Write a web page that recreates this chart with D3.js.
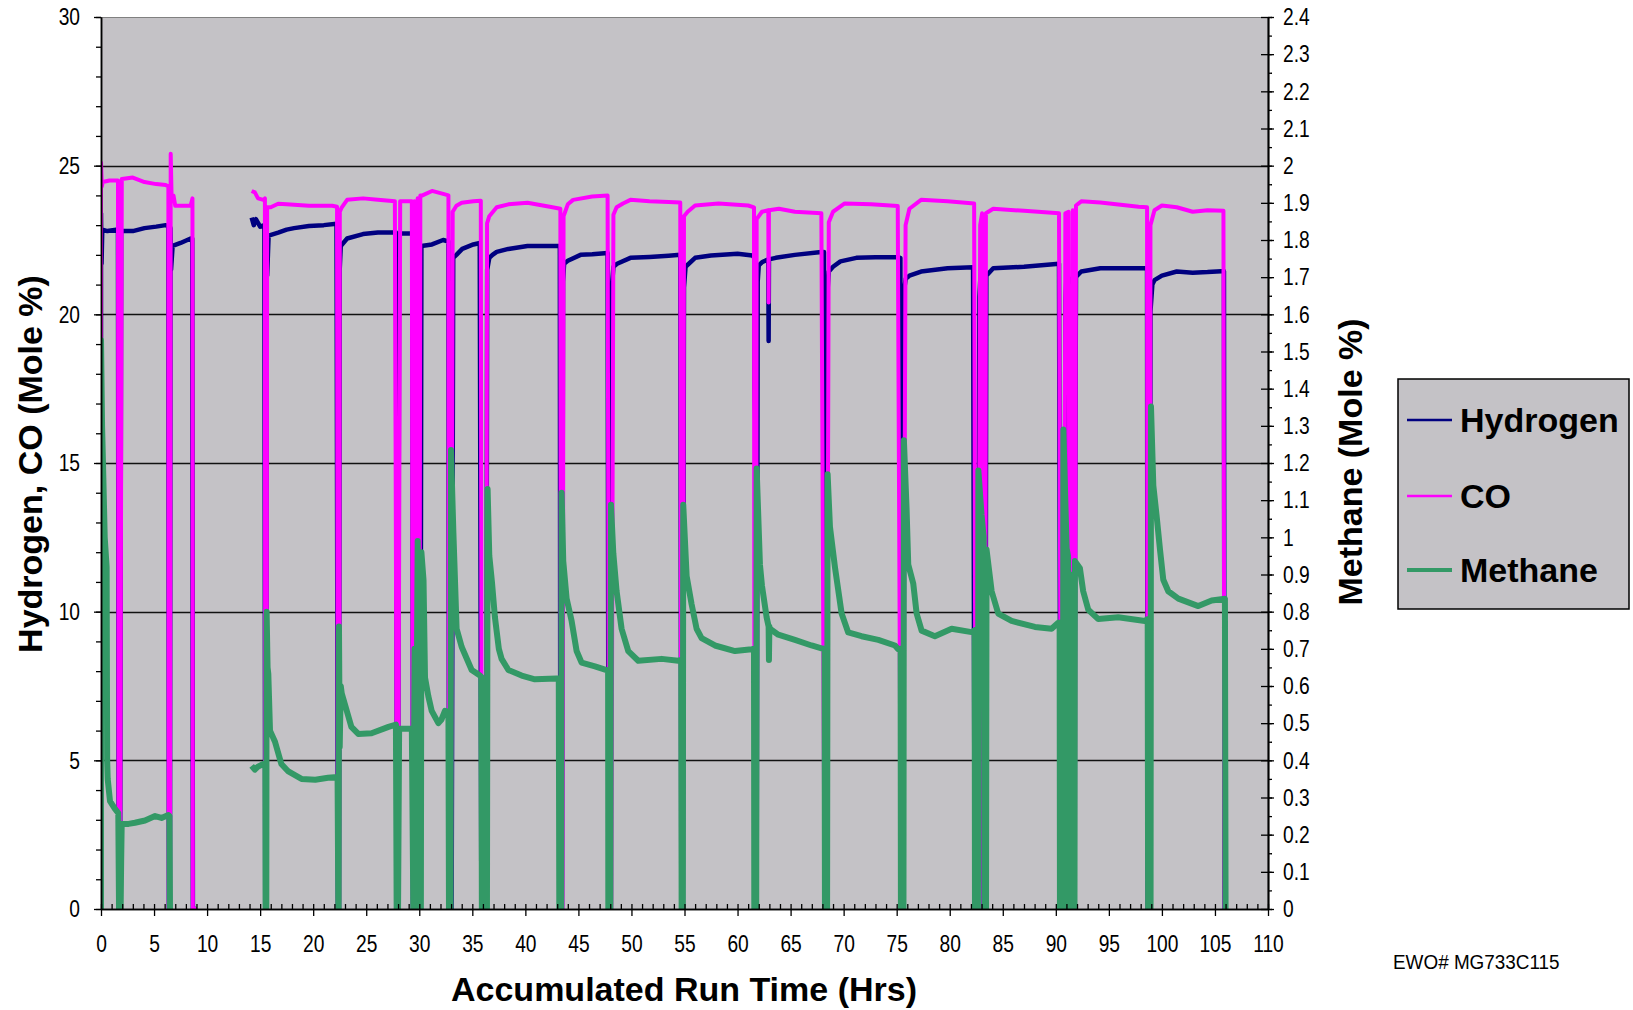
<!DOCTYPE html>
<html>
<head>
<meta charset="utf-8">
<title>Hydrogen, CO and Methane vs Run Time</title>
<style>
  body { margin: 0; background: #fff; }
  text { font-family: "Liberation Sans", Arial, sans-serif; }
</style>
</head>
<body>
<div id="container"></div>

<script src="https://d3js.org/d3.v7.min.js" type="text/javascript"></script>
<script type="text/javascript">
    // [run time (hrs), mole %]; null = no data
    const hydrogen = [
        [0, 0], [0, 23.4], [0.05, 21.7], [0.12, 22.85], [0.6, 22.8], [1.6, 22.85], [1.67, 0], [1.8, 0],
        [1.9, 22.8], [3.0, 22.8], [4.1, 22.9], [5.2, 22.95], [6.1, 23.0], [6.35, 22.95], [6.4, 0], [6.5, 0],
        [6.55, 22.9], [6.6, 21.5], [6.75, 22.3], [7.5, 22.4], [8.45, 22.55], [8.6, 22.55], [8.66, 0], [9.0, 0],
        null,
        [14.2, 23.25], [14.4, 23.0], [14.6, 23.2], [15.0, 22.95], [15.4, 23.0], [15.48, 0], [15.58, 0],
        [15.62, 22.8], [15.66, 21.3], [15.8, 22.65], [16.7, 22.75], [17.5, 22.85], [18.2, 22.9], [19.6, 22.97],
        [21.0, 23.0], [22.2, 23.05], [22.33, 0], [22.43, 0], [22.5, 21.5], [22.6, 22.3], [23.2, 22.55],
        [24.7, 22.7], [26.1, 22.75], [27.8, 22.75], [27.9, 0], [28.0, 0], [28.1, 22.72], [29.36, 22.72],
        [29.4, 0], [29.6, 22.7], [29.7, 0], [29.9, 22.3], [30.0, 0], [30.1, 0], [30.2, 22.3], [31.2, 22.35],
        [32.25, 22.5], [32.75, 22.45], [32.8, 0], [33.05, 0], [33.2, 21.9], [33.5, 22.0], [34.05, 22.2],
        [35.1, 22.35], [35.7, 22.4], [35.85, 0], [36.3, 0], [36.4, 21.5], [36.6, 21.9], [36.9, 22.0],
        [37.3, 22.1], [38.4, 22.2], [40.2, 22.3], [42.3, 22.3], [43.25, 22.3], [43.3, 0], [43.45, 0],
        [43.55, 21.1], [43.65, 21.7], [44.0, 21.8], [45.2, 22.0], [46.3, 22.02], [47.75, 22.06], [47.85, 0],
        [48.0, 0], [48.1, 20.67], [48.3, 21.6], [48.65, 21.7], [49.9, 21.9], [51.7, 21.93], [53.5, 21.97],
        [54.6, 22.0], [54.7, 0], [54.85, 0], [54.95, 20.9], [55.1, 21.6], [56.0, 21.9], [57.5, 21.98],
        [60.0, 22.04], [61.4, 21.98], [61.58, 21.9], [61.6, 17.5], [61.66, 16.5], [61.68, 0], [61.8, 0],
        [61.9, 21.1], [62.0, 21.65], [62.3, 21.75], [62.9, 21.85], [62.93, 19.1], [62.96, 21.85], [63.6, 21.9],
        [65.4, 22.0], [67.9, 22.1], [68.15, 22.1], [68.2, 0], [68.4, 0], [68.5, 20.9], [68.6, 21.44],
        [69.0, 21.6], [69.7, 21.78], [71.2, 21.9], [73.0, 21.92], [75.1, 21.92], [75.35, 21.9], [75.4, 0],
        [75.6, 0], [75.7, 20.8], [75.85, 21.2], [76.2, 21.3], [77.3, 21.44], [79.8, 21.55], [82.2, 21.58],
        [82.35, 0], [82.6, 0], [82.8, 20.6], [82.9, 21.3], [83.15, 21.3], [83.2, 0], [83.35, 0], [83.45, 21.3],
        [84.1, 21.55], [87.0, 21.6], [90.3, 21.7], [90.45, 0], [90.8, 0], [90.9, 20.5], [91.0, 21.2],
        [91.3, 21.2], [91.35, 0], [91.7, 0], [91.9, 21.26], [92.4, 21.44], [94.2, 21.55], [97.8, 21.55],
        [98.6, 21.55], [98.65, 0], [98.85, 0], [98.92, 20.1], [99.1, 21.0], [99.3, 21.15], [100.0, 21.3],
        [101.4, 21.44], [102.9, 21.4], [104.3, 21.42], [105.6, 21.45], [105.85, 21.45], [105.9, 0]
    ];

    const co = [
        [0, 0], [0, 25.1], [0.08, 24.3], [0.16, 24.45], [0.8, 24.5], [1.6, 24.5], [1.67, 0], [1.8, 0],
        [1.96, 24.55], [3.0, 24.6], [4.1, 24.45], [5.2, 24.38], [6.1, 24.35], [6.35, 24.3], [6.39, 0], [6.5, 0],
        [6.57, 25.4], [6.65, 24.0], [6.83, 24.0], [7.0, 23.65], [8.45, 23.65], [8.62, 23.9], [8.66, 0], [9.0, 0],
        null,
        [14.2, 24.15], [14.5, 24.1], [14.8, 23.9], [15.3, 23.85], [15.45, 23.9], [15.48, 0], [15.6, 0],
        [15.66, 23.6], [16.0, 23.6], [16.7, 23.72], [17.5, 23.7], [19.6, 23.65], [21.8, 23.65], [22.25, 23.62],
        [22.33, 0], [22.45, 0], [22.51, 23.45], [22.7, 23.6], [23.2, 23.85], [24.7, 23.9], [26.1, 23.85],
        [27.7, 23.8], [27.9, 0], [28.0, 0], [28.2, 23.8], [29.3, 23.8], [29.4, 0], [29.55, 23.8], [29.7, 0],
        [29.85, 23.9], [30.0, 0], [30.1, 24.0], [30.3, 24.0], [31.2, 24.15], [32.25, 24.05], [32.75, 24.0],
        [32.8, 0], [33.0, 0], [33.15, 23.45], [33.5, 23.65], [34.0, 23.75], [35.1, 23.8], [35.8, 23.82],
        [35.88, 0], [36.3, 0], [36.39, 23.06], [36.6, 23.3], [37.3, 23.6], [38.4, 23.7], [40.2, 23.75],
        [42.3, 23.62], [43.3, 23.55], [43.35, 0], [43.5, 0], [43.6, 23.3], [44.0, 23.7], [44.5, 23.85],
        [46.3, 23.96], [47.75, 24.0], [47.9, 0], [48.1, 0], [48.3, 23.35], [48.6, 23.6], [49.2, 23.73],
        [49.9, 23.85], [51.7, 23.8], [53.5, 23.78], [54.6, 23.76], [54.7, 0], [54.85, 0], [54.95, 23.3],
        [55.3, 23.45], [56.0, 23.66], [58.2, 23.73], [61.0, 23.66], [61.55, 23.6], [61.6, 0], [61.75, 0],
        [61.8, 23.2], [62.3, 23.45], [62.9, 23.5], [62.93, 20.4], [62.96, 23.5], [63.9, 23.55], [65.4, 23.45],
        [67.9, 23.4], [68.2, 0], [68.4, 0], [68.6, 23.1], [69.0, 23.45], [70.1, 23.73], [72.6, 23.7],
        [75.1, 23.64], [75.4, 0], [75.6, 0], [75.84, 23.0], [76.2, 23.55], [77.3, 23.85], [79.8, 23.8],
        [82.3, 23.73], [82.45, 0], [82.65, 0], [82.87, 23.0], [83.05, 23.4], [83.2, 0], [83.35, 0],
        [83.41, 23.4], [84.1, 23.55], [87.0, 23.48], [90.3, 23.4], [90.5, 0], [90.75, 0], [90.9, 23.4],
        [91.2, 23.45], [91.35, 0], [91.55, 0], [91.6, 23.5], [91.7, 0], [91.8, 0], [91.9, 23.66], [92.4, 23.8],
        [94.2, 23.76], [97.8, 23.62], [98.6, 23.6], [98.65, 0], [98.85, 0], [98.92, 23.0], [99.3, 23.5],
        [100.0, 23.66], [101.4, 23.6], [102.9, 23.45], [104.3, 23.5], [105.8, 23.48], [105.9, 0]
    ];

    const methane = [
        [0, 0], [0, 1.53], [0.1, 1.3], [0.22, 1.16], [0.35, 1.0], [0.53, 0.92], [0.58, 0.4], [0.63, 0.35],
        [0.85, 0.29], [1.3, 0.27], [1.63, 0.258], [1.7, 0], [1.85, 0], [1.9, 0.13], [1.95, 0.229], [2.6, 0.229],
        [3.2, 0.232], [4.15, 0.238], [5.1, 0.25], [5.7, 0.245], [6.35, 0.253], [6.45, 0.25], [6.5, 0],
        null,
        [14.2, 0.385], [14.5, 0.375], [14.8, 0.383], [15.3, 0.39], [15.5, 0.39], [15.52, 0], [15.58, 0],
        [15.61, 0.8], [15.7, 0.65], [15.77, 0.633], [15.93, 0.48], [16.4, 0.45], [17.0, 0.39], [17.66, 0.37],
        [18.9, 0.35], [20.2, 0.348], [21.4, 0.353], [22.3, 0.355], [22.37, 0], [22.4, 0], [22.43, 0.76],
        [22.5, 0.436], [22.6, 0.6], [22.69, 0.58], [23.3, 0.52], [23.6, 0.49], [24.25, 0.471], [25.5, 0.473],
        [27.1, 0.49], [27.8, 0.496], [27.87, 0], [28.0, 0], [28.1, 0.485], [29.3, 0.485], [29.44, 0],
        [29.55, 0.7], [29.65, 0], [29.85, 0.99], [29.95, 0], [30.15, 0], [30.2, 0.96], [30.4, 0.885],
        [30.54, 0.623], [30.85, 0.573], [31.17, 0.533], [31.8, 0.5], [32.1, 0.51], [32.42, 0.533],
        [32.75, 0.53], [32.8, 0], [32.95, 0], [32.99, 1.235], [33.21, 1.017], [33.52, 0.754], [34.0, 0.705],
        [34.94, 0.643], [35.72, 0.628], [35.85, 0.625], [35.88, 0.32], [35.9, 0], [36.38, 0], [36.44, 1.13],
        [36.6, 0.95], [36.85, 0.88], [37.13, 0.785], [37.5, 0.7], [37.76, 0.673], [38.4, 0.643],
        [39.65, 0.628], [40.9, 0.618], [42.95, 0.62], [43.15, 0.62], [43.2, 0], [43.38, 0], [43.42, 1.12],
        [43.57, 0.936], [43.89, 0.835], [44.36, 0.775], [44.83, 0.694], [45.3, 0.663], [46.56, 0.653],
        [47.66, 0.643], [47.8, 0.64], [47.82, 0], [48.02, 0], [48.07, 1.088], [48.29, 0.957], [48.6, 0.855],
        [49.07, 0.754], [49.7, 0.694], [50.64, 0.668], [52.85, 0.673], [54.41, 0.668], [54.7, 0.67],
        [54.73, 0], [54.84, 0], [54.88, 1.088], [55.2, 0.896], [55.67, 0.82], [56.14, 0.754], [56.61, 0.729],
        [57.87, 0.709], [59.76, 0.694], [61.33, 0.699], [61.55, 0.7], [61.58, 0], [61.76, 0], [61.8, 1.185],
        [62.11, 0.927], [62.3, 0.87], [62.74, 0.785], [62.93, 0.76], [62.96, 0.67], [63.0, 0.76],
        [63.05, 0.754], [63.84, 0.738], [65.41, 0.724], [66.98, 0.709], [68.08, 0.7], [68.2, 0.7], [68.24, 0],
        [68.44, 0], [68.49, 1.17], [68.71, 1.028], [69.18, 0.92], [69.81, 0.795], [70.43, 0.744],
        [71.69, 0.734], [73.27, 0.724], [74.84, 0.709], [75.15, 0.699], [75.37, 0.7], [75.4, 0], [75.64, 0],
        [75.68, 1.261], [75.93, 1.079], [76.09, 0.927], [76.56, 0.876], [76.88, 0.795], [77.35, 0.749],
        [78.6, 0.734], [80.18, 0.754], [82.06, 0.745], [82.35, 0.75], [82.38, 0], [82.66, 0], [82.7, 1.18],
        [83.0, 1.06], [83.2, 1.0], [83.3, 0], [83.42, 0], [83.47, 0.967], [83.95, 0.855], [84.57, 0.795],
        [85.83, 0.775], [88.03, 0.759], [89.6, 0.754], [90.23, 0.77], [90.36, 0.77], [90.39, 0], [90.67, 0],
        [90.71, 1.29], [91.02, 0.97], [91.15, 0.95], [91.18, 0], [91.38, 0], [91.43, 0.9], [91.6, 0.88],
        [91.65, 0], [91.76, 0], [91.8, 0.936], [92.27, 0.917], [92.58, 0.855], [93.06, 0.805], [94.0, 0.78],
        [95.88, 0.785], [98.4, 0.775], [98.66, 0.78], [98.7, 0], [98.93, 0], [98.97, 1.352], [99.19, 1.139],
        [99.5, 1.058], [99.82, 0.967], [100.13, 0.886], [100.6, 0.855], [101.55, 0.835], [103.43, 0.815],
        [104.69, 0.83], [105.94, 0.835], [106.0, 0]
    ];

    const xTicks = [0, 5, 10, 15, 20, 25, 30, 35, 40, 45, 50, 55, 60, 65, 70, 75, 80, 85, 90, 95, 100, 105, 110];
    const leftTicks = [0, 5, 10, 15, 20, 25, 30];
    const rightTicks = [0, 0.1, 0.2, 0.3, 0.4, 0.5, 0.6, 0.7, 0.8, 0.9, 1, 1.1, 1.2, 1.3, 1.4, 1.5, 1.6, 1.7,
        1.8, 1.9, 2, 2.1, 2.2, 2.3, 2.4];
    const seriesNames = ['Hydrogen', 'CO', 'Methane'];

    const w = 1633;
    const h = 1010;
    const plot = {left: 101, right: 1268, top: 17, bottom: 909};
    const colors = {Hydrogen: '#000080', CO: '#ff00ff', Methane: '#339966'};
    const bg = '#c4c2c6';
    const sx = 0.8; // the original tick font is narrow

    const svg = d3.select('#container')
        .append('svg')
        .attr('width', w)
        .attr('height', h)
        .style('display', 'block');

    svg.append('rect').attr('width', w).attr('height', h).attr('fill', '#fff');

    const x = d3.scaleLinear().domain([0, 110]).range([plot.left, plot.right]);
    const y = d3.scaleLinear().domain([0, 30]).range([plot.bottom, plot.top]);
    const y2 = d3.scaleLinear().domain([0, 2.4]).range([plot.bottom, plot.top]);

    svg.append('rect')
        .attr('x', plot.left).attr('y', plot.top)
        .attr('width', plot.right - plot.left).attr('height', plot.bottom - plot.top)
        .attr('fill', bg);

    svg.append('line')
        .attr('x1', plot.left).attr('x2', plot.right)
        .attr('y1', plot.top + 0.5).attr('y2', plot.top + 0.5)
        .attr('stroke', '#808080');

    // gridlines
    svg.append('g').selectAll('line')
        .data(leftTicks.filter(d => d > 0 && d < 30))
        .join('line')
        .attr('x1', plot.left).attr('x2', plot.right)
        .attr('y1', d => Math.round(y(d)) + 0.5).attr('y2', d => Math.round(y(d)) + 0.5)
        .attr('stroke', '#111').attr('stroke-width', 1.6);

    // series
    svg.append('clipPath').attr('id', 'clip')
        .append('rect')
        .attr('x', plot.left).attr('y', plot.top)
        .attr('width', plot.right - plot.left).attr('height', plot.bottom - plot.top);

    const lineL = d3.line().defined(d => d !== null).x(d => x(d[0])).y(d => y(d[1]));
    const lineR = d3.line().defined(d => d !== null).x(d => x(d[0])).y(d => y2(d[1]));

    const lines = svg.append('g').attr('clip-path', 'url(#clip)');
    lines.append('path').datum(hydrogen).attr('d', lineL)
        .attr('fill', 'none').attr('stroke', colors.Hydrogen).attr('stroke-width', 4.5)
        .attr('stroke-linejoin', 'round');
    lines.append('path').datum(co).attr('d', lineL)
        .attr('fill', 'none').attr('stroke', colors.CO).attr('stroke-width', 4)
        .attr('stroke-linejoin', 'round');
    lines.append('path').datum(methane).attr('d', lineR)
        .attr('fill', 'none').attr('stroke', colors.Methane).attr('stroke-width', 6)
        .attr('stroke-linejoin', 'round');

    // axes
    function styleAxis(g) {
        g.select('.domain').attr('stroke', '#000').attr('stroke-width', 1.5);
        g.selectAll('.tick line').attr('stroke', '#000').attr('stroke-width', 1.3);
        g.selectAll('text').attr('fill', '#000').attr('font-size', 24)
            .attr('font-family', '"Liberation Sans", Arial, sans-serif');
    }

    // x axis: minor inside, major outside
    svg.append('g')
        .attr('transform', `translate(0, ${plot.bottom})`)
        .call(d3.axisTop(x).tickValues(d3.range(0, 111, 1)).tickSize(5).tickSizeOuter(0).tickFormat(''))
        .call(styleAxis);
    const gx = svg.append('g')
        .attr('transform', `translate(0, ${plot.bottom})`)
        .call(d3.axisBottom(x).tickValues(xTicks).tickSize(7).tickSizeOuter(0).tickFormat(d3.format('d')))
        .call(styleAxis);
    gx.selectAll('text').attr('y', 26).attr('transform', `scale(${sx},1)`);

    // left axis
    svg.append('g')
        .attr('transform', `translate(${plot.left}, 0)`)
        .call(d3.axisLeft(y).tickValues(d3.range(0, 31, 1)).tickSize(5).tickSizeOuter(0).tickFormat(''))
        .call(styleAxis);
    const gl = svg.append('g')
        .attr('transform', `translate(${plot.left}, 0)`)
        .call(d3.axisLeft(y).tickValues(leftTicks).tickSize(7).tickSizeOuter(0))
        .call(styleAxis);
    gl.selectAll('text').attr('x', -21 / sx).attr('transform', `scale(${sx},1)`);

    // right axis: minor outside, major crossing
    svg.append('g')
        .attr('transform', `translate(${plot.right}, 0)`)
        .call(d3.axisRight(y2).tickValues(d3.range(0, 2.41, 0.05)).tickSize(4).tickSizeOuter(0).tickFormat(''))
        .call(styleAxis);
    svg.append('g')
        .attr('transform', `translate(${plot.right}, 0)`)
        .call(d3.axisLeft(y2).tickValues(rightTicks).tickSize(7).tickSizeOuter(0).tickFormat(''))
        .call(styleAxis);
    const gr = svg.append('g')
        .attr('transform', `translate(${plot.right}, 0)`)
        .call(d3.axisRight(y2).tickValues(rightTicks).tickSize(6).tickSizeOuter(0).tickFormat(d => String(+d.toFixed(1))))
        .call(styleAxis);
    gr.selectAll('text').attr('x', 15 / sx).attr('transform', `scale(${sx},1)`);

    // titles
    svg.append('text')
        .attr('x', 684).attr('y', 1001)
        .attr('text-anchor', 'middle')
        .attr('font-size', 34).attr('font-weight', 'bold')
        .text('Accumulated Run Time (Hrs)');

    svg.append('text')
        .attr('transform', 'translate(42, 464) rotate(-90)')
        .attr('text-anchor', 'middle')
        .attr('font-size', 34).attr('font-weight', 'bold')
        .text('Hydrogen, CO (Mole %)');

    svg.append('text')
        .attr('transform', 'translate(1362, 462) rotate(-90)')
        .attr('text-anchor', 'middle')
        .attr('font-size', 34).attr('font-weight', 'bold')
        .text('Methane (Mole %)');

    // legend
    const legend = svg.append('g').attr('transform', 'translate(1398, 379)');
    legend.append('rect')
        .attr('width', 231).attr('height', 230)
        .attr('fill', bg).attr('stroke', '#000').attr('stroke-width', 1.5);
    const legendY = [41, 117, 191];
    const legendW = [2.5, 2.5, 4];
    seriesNames.forEach((name, i) => {
        legend.append('line')
            .attr('x1', 9).attr('x2', 54)
            .attr('y1', legendY[i]).attr('y2', legendY[i])
            .attr('stroke', colors[name]).attr('stroke-width', legendW[i]);
        legend.append('text')
            .attr('x', 62).attr('y', legendY[i] + 12)
            .attr('font-size', 34).attr('font-weight', 'bold')
            .text(name);
    });

    svg.append('text')
        .attr('transform', 'translate(1393, 969) scale(0.9,1)')
        .attr('font-size', 21)
        .text('EWO# MG733C115');
</script>
</body>
</html>
